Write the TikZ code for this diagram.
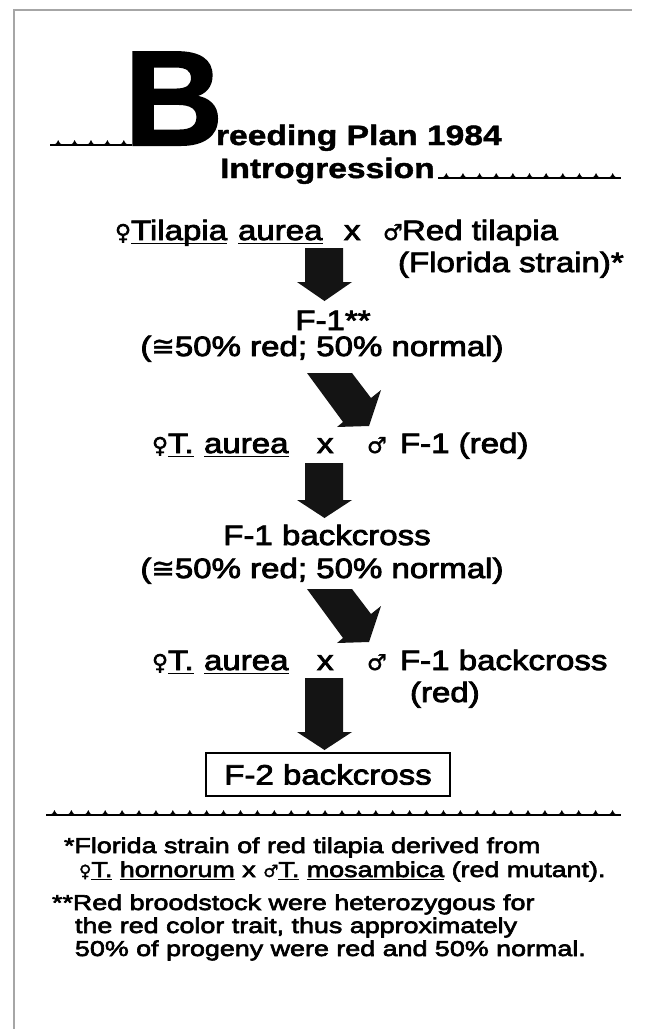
\documentclass[tikz,border=0pt]{standalone}
\usepackage{fontspec}
\setmainfont{Liberation Sans}
\newfontfamily\bodyf[FakeStretch=1.18,FakeBold=3]{Liberation Sans}
\newfontfamily\ttlf[FakeStretch=1.2,FakeBold=1.5]{Liberation Sans}
\newfontfamily\ftf[FakeStretch=1.25,FakeBold=3]{Liberation Sans}
\newfontfamily\symf[FakeBold=1.5]{DejaVu Sans}
\newcommand\ulin[2][4]{\setbox0=\hbox{#2}\rlap{\rule[-#1pt]{\wd0}{1.3pt}}\box0\relax}
\newcommand\wavy[4]{%
  \draw[line width=1.3pt] (#1,#3) -- (#2,#3);
  \pgfmathsetmacro\wstep{(#2-#1)/#4}
  \foreach \i in {1,...,#4}{%
    \pgfmathsetmacro\wx{#1+(\i-0.5)*\wstep}
    \fill (\wx-5.5,#3) .. controls (\wx-2,#3-1) .. (\wx,#3-5) .. controls (\wx+2,#3-1) .. (\wx+5.5,#3) -- cycle;}%
}
\newcommand\varrow[3]{\fill[blk] (305,#1) -- (343,#1) -- (343,#2) -- (352,#2) -- (324.5,#3) -- (297,#2) -- (305,#2) -- cycle;}
\newcommand\darrow{\fill[blk] (307,589) -- (352,589) -- (371,614) -- (381,606) -- (369,642) -- (337,643) -- (343,638) -- cycle;}
\begin{document}
\begin{tikzpicture}[x=1pt,y=-1pt,
  blk/.style={fill=black!92},
  body/.style={inner sep=0pt,outer sep=0pt,anchor=base west,font=\bodyf\fontsize{28}{32}\selectfont},
  ttl/.style={inner sep=0pt,outer sep=0pt,anchor=base west,font=\ttlf\bfseries\fontsize{28}{32}\selectfont},
  ft/.style={inner sep=0pt,outer sep=0pt,anchor=base west,font=\ftf\fontsize{21.5}{24}\selectfont},
  sym/.style={inner sep=0pt,outer sep=0pt,anchor=base west,font=\symf\fontsize{22}{24}\selectfont}]
\useasboundingbox (0,0) rectangle (654,1029);
% frame
\draw[gray!70,line width=1.2pt] (14,1029) -- (14,10) -- (632,10);
% title
\node[inner sep=0pt,outer sep=0pt,anchor=base west,font=\ttlf\bfseries\fontsize{135}{135}\selectfont] (B) at (124,145) {\scalebox{0.85}[1]{B}};
\node[ttl] (t1) at (216,145) {reeding Plan 1984};
\node[ttl] (t2) at (220,178) {Introgression};
\wavy{50}{132}{145}{5}
\wavy{438}{621}{178}{11}
% row 1
\node[sym] (r1f) at (115,240) {♀};
\node[body] (r1a) at (131,240) {\ulin{Tilapia}};
\node[body] (r1b) at (238,240) {\ulin{aurea}};
\node[body] (r1x) at (344,240) {x};
\node[sym] (r1m) at (383,240) {♂};
\node[body] (r1c) at (402,240) {Red tilapia};
\node[body] (r1d) at (398,272) {(Florida strain)*};
\varrow{248}{282}{301}
\node[body,anchor=base] (f1) at (333,330) {F-1**};
\node[body,anchor=base] (p1) at (322,356) {({\symf ≅}50\% red; 50\% normal)};
\begin{scope}[shift={(0,-216)}]\darrow\end{scope}
% row 2
\node[sym] (r2f) at (152,453) {♀};
\node[body] (r2a) at (168,453) {\ulin{T.}};
\node[body] (r2b) at (204,453) {\ulin{aurea}};
\node[body] (r2x) at (317,453) {x};
\node[sym] (r2m) at (367,453) {♂};
\node[body] (r2c) at (400,453) {F-1 (red)};
\varrow{463}{500}{518}
\node[body,anchor=base] (f1b) at (327,545) {F-1 backcross};
\node[body,anchor=base] (p2) at (322,578) {({\symf ≅}50\% red; 50\% normal)};
\darrow
% row 3
\node[sym] (r3f) at (152,670) {♀};
\node[body] (r3a) at (168,670) {\ulin{T.}};
\node[body] (r3b) at (204,670) {\ulin{aurea}};
\node[body] (r3x) at (317,670) {x};
\node[sym] (r3m) at (367,670) {♂};
\node[body] (r3c) at (400,670) {F-1 backcross};
\node[body] (r3d) at (410,702) {(red)};
\varrow{678}{732}{750}
\node[body,anchor=center,draw,line width=2pt,minimum width=244pt,minimum height=43pt] (f2) at (328,774.5) {F-2 backcross};
\wavy{46}{621}{815}{34}
% footnotes
\node[ft] (n1) at (64,853) {*Florida strain of red tilapia derived from};
\node[ft] (n2) at (79,877) {{\symf\fontsize{17}{18}\selectfont ♀}\ulin[3]{T.} \ulin[3]{hornorum} x {\symf\fontsize{17}{18}\selectfont ♂}\ulin[3]{T.} \ulin[3]{mosambica} (red mutant).};
\node[ft] (n3) at (52,910) {**Red broodstock were heterozygous for};
\node[ft] (n4) at (75,933) {the red color trait, thus approximately};
\node[ft] (n5) at (75,956) {50\% of progeny were red and 50\% normal.};
\end{tikzpicture}
\end{document}
